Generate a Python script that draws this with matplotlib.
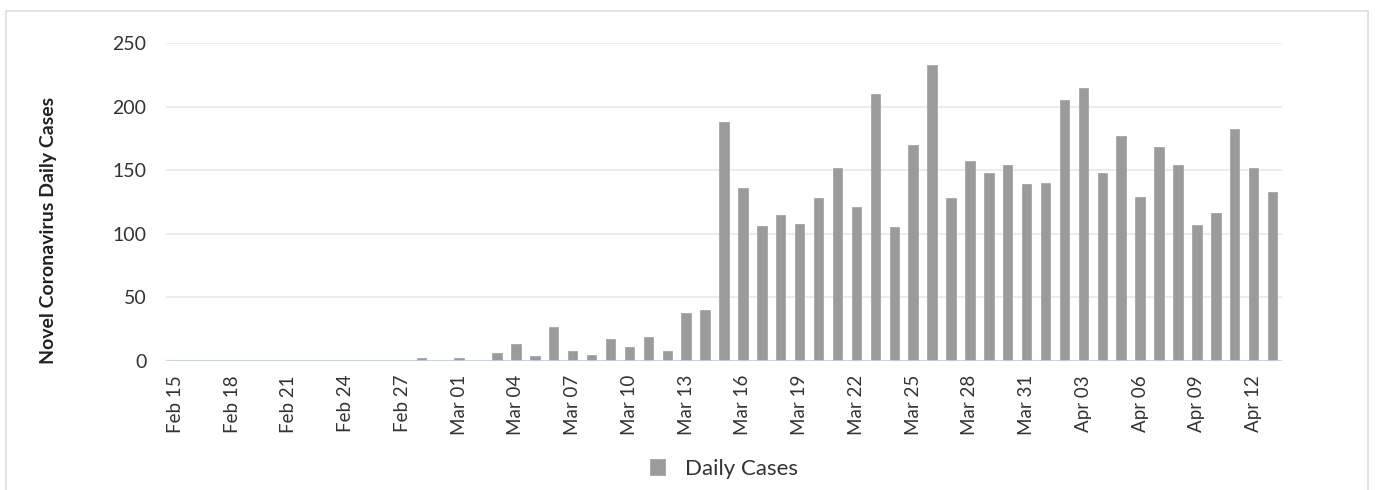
import matplotlib
matplotlib.use("Agg")
import matplotlib.pyplot as plt
import matplotlib.dates as mdates
from matplotlib.patches import Rectangle
import pandas as pd

plt.rcParams['font.family'] = ['Lato', 'DejaVu Sans']

start_date = "2020-02-15"
daily_cases = [0, 0, 0, 0, 0, 0, 0, 0, 0, 0, 0, 0, 0,      # Feb 15 - Feb 27
               2, 0,                                        # Feb 28, 29
               2, 0, 6, 13, 4, 27, 8, 5, 17, 11, 19, 8, 38, 40,  # Mar 1 - Mar 14
               188, 136, 106, 115, 108, 128, 152, 121, 210, 105, 170, 233,  # Mar 15 - 26
               128, 157, 148, 154, 139,                     # Mar 27 - 31
               140, 205, 215, 148, 177, 129, 168, 154, 107, 116, 182, 152, 133]  # Apr 1 - 13
dates = pd.date_range(start_date, periods=len(daily_cases), freq="D")
tick_labels = ["Feb 15", "Feb 18", "Feb 21", "Feb 24", "Feb 27", "Mar 01", "Mar 04",
               "Mar 07", "Mar 10", "Mar 13", "Mar 16", "Mar 19", "Mar 22", "Mar 25",
               "Mar 28", "Mar 31", "Apr 03", "Apr 06", "Apr 09", "Apr 12"]
tick_dates = pd.date_range(start_date, periods=len(tick_labels), freq="3D")
y_ticks = [0, 50, 100, 150, 200, 250]
series_name = "Daily Cases"
y_title = "Novel Coronavirus Daily Cases"

W, H = 1375, 490
fig = plt.figure(figsize=(W / 100, H / 100), dpi=100)
ax = fig.add_axes([166 / W, 1 - 361 / H, (1282 - 166) / W, (361 - 43) / H])

bar_color = "#9b9b9b"
ax.bar(dates, daily_cases, width=0.5, color=bar_color, edgecolor="#a6a6a6",
       linewidth=0.6, label=series_name, zorder=3)

ax.set_xlim(dates[0] - pd.Timedelta(hours=12), dates[-1] + pd.Timedelta(hours=12))
ax.set_ylim(0, 250)
ax.set_yticks(y_ticks)
ax.set_yticklabels([str(v) for v in y_ticks], fontsize=14)
ax.set_xticks(tick_dates)
ax.set_xticklabels(tick_labels, rotation=90, fontsize=13.5)

for s in ax.spines.values():
    s.set_visible(False)
ax.axhline(0, color="#c5d0e6", linewidth=1.2, zorder=4)
ax.grid(axis="y", color="#e9e9e9", linewidth=1.2, zorder=0)
ax.tick_params(axis="both", length=0, labelcolor="#333333")
ax.tick_params(axis="y", pad=14)
ax.tick_params(axis="x", pad=10)

ax.set_ylabel(y_title, fontsize=14, fontweight="bold", color="#222222")
ax.yaxis.set_label_coords((57 - 166) / 1116, (361 - 230) / 318)

leg = fig.legend(loc="center", bbox_to_anchor=((166 + 1282) / 2 / W, 1 - 469 / H),
                 frameon=False, prop={"size": 16},
                 handlelength=0.7, handleheight=0.7,
                 handletextpad=0.9, labelcolor="#333333")

# outer border
fig.patches.append(Rectangle((6 / W, -0.01), (1368 - 6) / W, (1 - 11 / H) + 0.01,
                             transform=fig.transFigure, fill=False,
                             edgecolor="#dddddd", linewidth=1.2))

fig.savefig("out.png", dpi=100)
